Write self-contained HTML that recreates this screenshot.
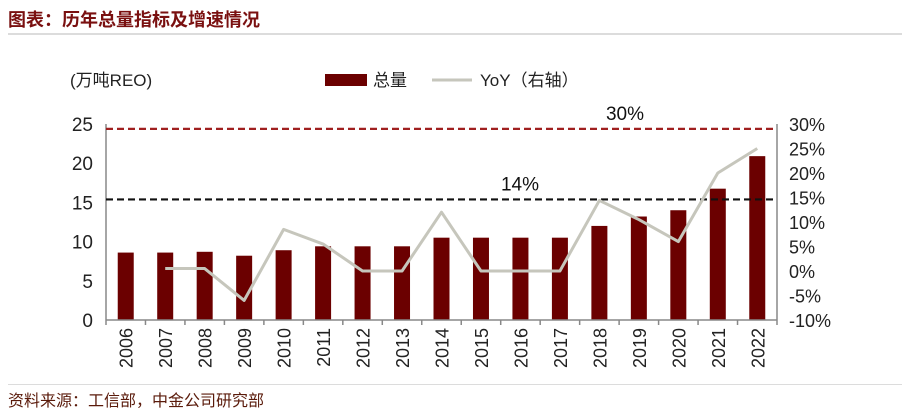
<!DOCTYPE html>
<html><head><meta charset="utf-8"><style>
html,body{margin:0;padding:0;background:#fff;}
body{width:902px;height:413px;overflow:hidden;font-family:"Liberation Sans","Noto Sans CJK SC",sans-serif;}
</style></head><body>
<svg id="chart" width="902" height="413" xmlns="http://www.w3.org/2000/svg" font-family="Liberation Sans, Noto Sans CJK SC, sans-serif">
<text x="8" y="26" font-size="18" font-weight="bold" fill="#7a1010">图表：历年总量指标及增速情况</text>
<rect x="8" y="33" width="894" height="2" fill="#dcdcdc"/>
<text x="70" y="86" font-size="17" fill="#222">(万吨REO)</text>
<rect x="325" y="74" width="42" height="12" fill="#6b0000"/>
<text x="373" y="86" font-size="17" fill="#222">总量</text>
<line x1="432" y1="80" x2="472" y2="80" stroke="#c6c6bc" stroke-width="3"/>
<text x="480" y="86" font-size="17" fill="#222">YoY（右轴）</text>
<g id="plot"></g>
<rect x="8" y="384" width="894" height="1" fill="#dcdcdc"/>
<text x="8" y="406" font-size="16" fill="#5a1a0a">资料来源：工信部，中金公司研究部</text>
</svg>
<script>
const categories=["2006","2007","2008","2009","2010","2011","2012","2013","2014","2015","2016","2017","2018","2019","2020","2021","2022"];
const totals=[8.6,8.6,8.7,8.2,8.9,9.4,9.4,9.4,10.5,10.5,10.5,10.5,12.0,13.2,14.0,16.75,20.9];
const yoy=[null,0.5,0.5,-6,8.5,5.5,0,0,12,0,0,0,14.4,10.5,6,20,25];
const leftTicks=[0,5,10,15,20,25];
const rightTicks=[-10,-5,0,5,10,15,20,25,30];
const refLineValues=[29,14.6];
const refLineLabels=["30%","14%"];
const NS="http://www.w3.org/2000/svg";
const g=document.getElementById('plot');
const X0=106,X1=777,Y0=320,YT=124;
const step=(X1-X0)/categories.length;
const xc=i=>X0+step*(i+0.5);
const yL=v=>Y0-(v-0)/25*(Y0-YT);
const yR=v=>Y0-(v+10)/40*(Y0-YT);
function mk(t,a){const e=document.createElementNS(NS,t);for(const k in a)e.setAttribute(k,a[k]);g.appendChild(e);return e;}
let e=mk('line',{x1:X0,y1:YT,x2:X0,y2:Y0,stroke:'#888','stroke-width':1.5});


e=mk('line',{x1:X1,y1:YT,x2:X1,y2:Y0,stroke:'#888','stroke-width':1.5});


leftTicks.forEach(v=>{
 const t=mk('text',{x:93,y:yL(v)+7,'font-size':19,'text-anchor':'end',fill:'#222'});t.textContent=v;
 
 
});
rightTicks.forEach(v=>{
 const t=mk('text',{x:789,y:yR(v)+7,'font-size':18,fill:'#222'});t.textContent=v+'%';
 
 
});
categories.forEach((c,i)=>{
 const b=mk('rect',{x:xc(i)-8,y:yL(totals[i]),width:16,height:Y0-yL(totals[i]),fill:'#6b0000'});
 
 
});
refLineValues.forEach((v,i)=>{
 const l=mk('line',{x1:X0,y1:yR(v),x2:X1,y2:yR(v),stroke:i==0?'#a02020':'#111','stroke-width':2.2,'stroke-dasharray':'7,4'});
 
 
 const t=mk('text',{x:i==0?625:520,y:yR(v)-9,'font-size':19,'text-anchor':'middle',fill:'#111'});t.textContent=refLineLabels[i];
 
 
});
e=mk('line',{x1:X0,y1:Y0,x2:X1,y2:Y0,stroke:'#888','stroke-width':1.5});


for(let i=0;i<=categories.length;i++){
 const t=mk('line',{x1:X0+step*i,y1:Y0,x2:X0+step*i,y2:Y0+5,stroke:'#888','stroke-width':1.5});
 
 
}
categories.forEach((c,i)=>{
 const t=mk('text',{x:0,y:0,'font-size':18,'text-anchor':'end',fill:'#222',transform:`translate(${xc(i)+7},328) rotate(-90)`});t.textContent=c;
 
 
});
const pts=[];yoy.forEach((v,i)=>{if(v!==null)pts.push(xc(i)+','+yR(v));});
const pl=mk('polyline',{points:pts.join(' '),fill:'none',stroke:'#c6c6bc','stroke-width':3,'stroke-linejoin':'round'});


</script>
</body></html>
